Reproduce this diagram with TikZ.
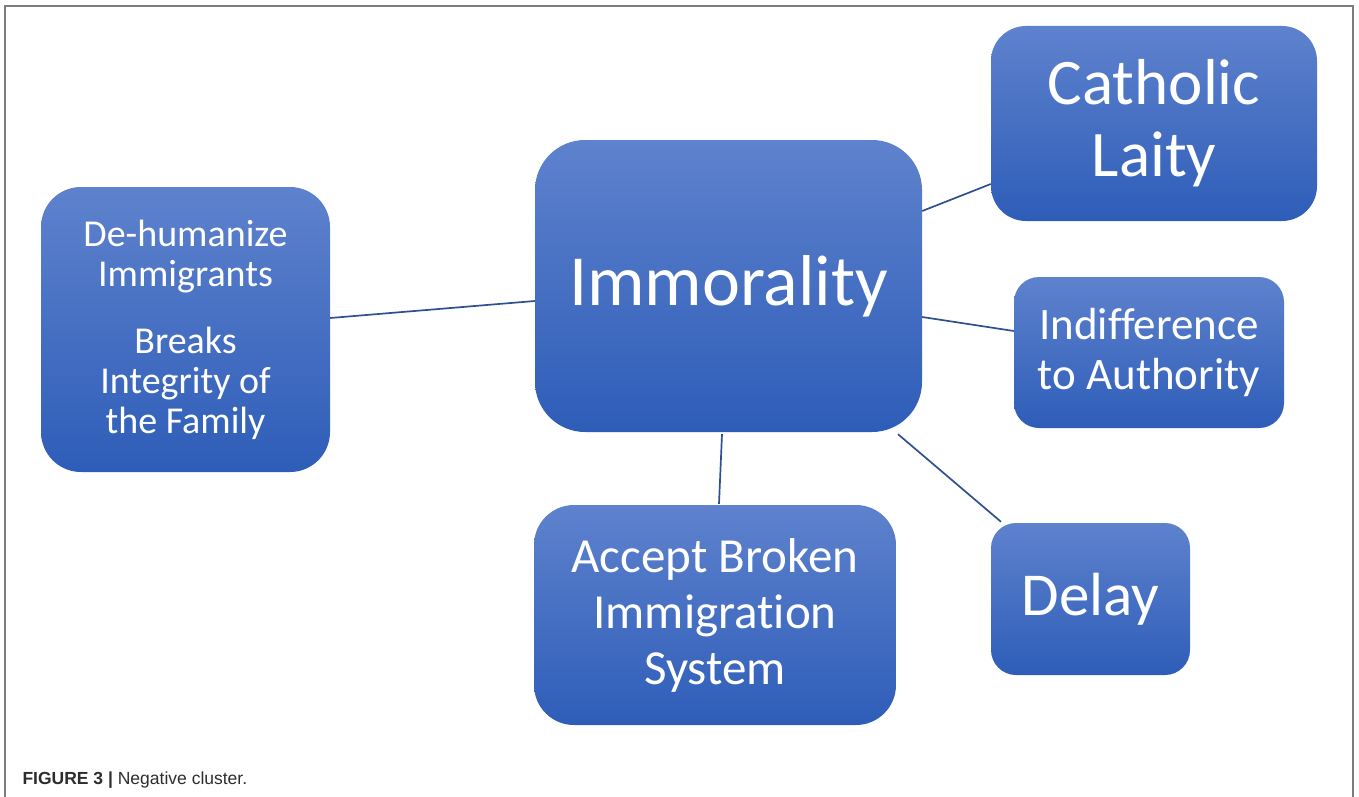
\documentclass[tikz,border=0pt]{standalone}
\usepackage{fontspec}
\setmainfont[Ligatures=NoCommon]{Carlito}
\newfontfamily\capfont{Liberation Sans}

\definecolor{boxtop}{RGB}{94,130,205}
\definecolor{boxbot}{RGB}{46,93,184}
\definecolor{linkblue}{RGB}{46,80,145}
\definecolor{framegray}{RGB}{125,125,125}
\definecolor{capgray}{RGB}{45,45,45}

\tikzset{
	blob/.style={top color=boxtop, bottom color=boxbot, text=white, align=center, inner sep=0pt},
	link/.style={draw=linkblue, line width=1.7pt},
}

\begin{document}
\begin{tikzpicture}[x=1pt,y=-1pt]
			\newcommand{\fs}[2]{\fontsize{#1}{#2}\selectfont}% size and leading, in px
			
			\useasboundingbox (0,0) rectangle (1359,797);
			
			\draw[framegray, line width=2pt] (5,797)--(5,6)--(1353,6)--(1353,797);
			
			\node[blob, minimum width=387, minimum height=292, rounded corners=50, font=\fs{72}{80}] (immor) at (728.5,286) {Immorality};
			\node[blob, minimum width=326, minimum height=195, rounded corners=35, font=\fs{65}{72}] (cath) at (1154,123.5) {Catholic\\Laity};
			\node[blob, minimum width=270, minimum height=151, rounded corners=25, font=\fs{45}{50}] (indif) at (1149,352.5) {Indifference\\to Authority};
			\node[blob, minimum width=199, minimum height=152, rounded corners=25, font=\fs{61}{68}] (delay) at (1090.5,599) {Delay};
			\node[blob, minimum width=362, minimum height=220, rounded corners=40, font=\fs{49}{56}] (accept) at (715,615) {Accept Broken\\Immigration\\System};
			\node[blob, minimum width=289, minimum height=285, rounded corners=40, font=\fs{38}{40}] (dehum) at (185.5,329.5) {De-humanize\\Immigrants\\[27pt]Breaks\\Integrity of\\the Family};
			
			\draw[link] ([yshift=11.5pt]dehum.east)--([yshift=-15pt]immor.west);
			\draw[link] ([yshift=75pt]immor.east)--([yshift=-60.5pt]cath.west);
			\draw[link] ([yshift=-31pt]immor.east)--([yshift=21.5pt]indif.west);
			\draw[link] ([xshift=169.5pt,yshift=-2pt]immor.south)--([xshift=-89.5pt,yshift=1pt]delay.north);
			\draw[link] ([xshift=-6.5pt,yshift=-2pt]immor.south)--([xshift=4pt,yshift=1pt]accept.north);
			
			\node[anchor=base west, text=capgray, font=\capfont\fontsize{17.5}{20}\selectfont] (cap) at (19,784) {\textbf{FIGURE 3 |} Negative cluster.};
		
		\end{tikzpicture}
\end{document}
